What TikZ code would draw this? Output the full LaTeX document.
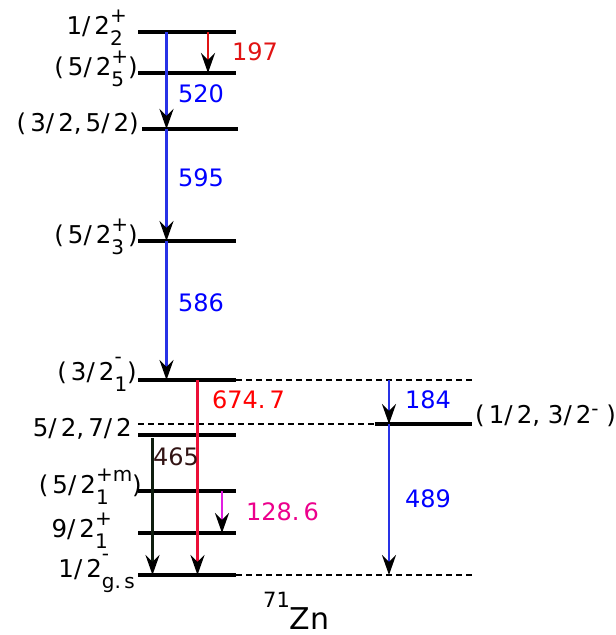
\documentclass[tikz,border=0pt]{standalone}
\usepackage{fontspec}
\setmainfont{DejaVu Sans}
\usetikzlibrary{arrows.meta,calc}

\definecolor{gblue}{RGB}{40,50,230}
\definecolor{gred}{RGB}{225,20,20}
\definecolor{gcrimson}{RGB}{235,15,55}
\definecolor{gmag}{RGB}{225,30,225}
\definecolor{gdark}{RGB}{15,30,15}
\definecolor{lbrown}{RGB}{50,20,20}

\newcommand{\subsz}{\fontsize{20}{20}\selectfont}
\newcommand{\supsub}[2]{{\subsz\setbox0=\hbox{\raisebox{11.5pt}{#1}}\setbox2=\hbox{\raisebox{-11.5pt}{#2}}\dimen0=\wd0 \ifdim\wd2>\dimen0 \dimen0=\wd2\fi\rlap{\box0}\rlap{\box2}\kern\dimen0}}
\newcommand{\mns}{\raisebox{5pt}{-}}

\tikzset{
    level/.style={line width=3.2pt},
    dlevel/.style={line width=2.8pt, dash pattern=on 6pt off 4pt},
    trans/.style={line width=2.8pt, -{Stealth[black,length=20pt,width=14pt,inset=7pt]}},
    spin/.style={anchor=base east, font=\fontsize{24.5}{24.5}\selectfont, inner sep=0pt},
    egam/.style={anchor=base west, font=\fontsize{24}{24}\selectfont, inner sep=0pt},
}

\begin{document}
\begin{tikzpicture}[x=1pt,y=-1pt]
        \useasboundingbox (0,0) rectangle (616,635);

        \coordinate (l1) at (138,32);
        \coordinate (l2) at (138,73);
        \coordinate (l3) at (142,129);
        \coordinate (l4) at (138,241);
        \coordinate (l5) at (138,380);
        \coordinate (l6) at (138,424);
        \coordinate (l6b) at (138,435);
        \coordinate (l7) at (138,491);
        \coordinate (l8) at (138,533);
        \coordinate (gs) at (138,575);
        \coordinate (r5) at (472,380);
        \coordinate (r6) at (375,424);
        \coordinate (r6e) at (472,424);
        \coordinate (rgs) at (475,575);

        \coordinate (xb) at (166.5,0);
        \coordinate (xr) at (208,0);
        \coordinate (xc) at (197.5,0);
        \coordinate (xk) at (152.5,0);
        \coordinate (xm) at (222,0);
        \coordinate (xs) at (389,0);

        \draw[level] (l1) -- ++(98,0);
        \draw[level] (l2) -- ++(98,0);
        \draw[level] (l3) -- ++(96,0);
        \draw[level] (l4) -- ++(98,0);
        \draw[level] (l5) -- ++(98,0);
        \draw[dlevel] ($(l5)+(98,0)$) -- (r5);
        \draw[dlevel] (l6) -- (r6);
        \draw[level] (r6) -- (r6e);
        \draw[level] (l6b) -- ++(98,0);
        \draw[level] (l7) -- ++(98,0);
        \draw[level] (l8) -- ++(98,0);
        \draw[level] (gs) -- ++(98,0);
        \draw[dlevel] ($(gs)+(98,0)$) -- (rgs);

        \node[spin] (s1) at (127,34) {1/\,2\supsub{+}{2}};
        \node[spin] (s2) at (138,75) {(\,5/\,2\supsub{+}{5})};
        \node[spin] (s3) at (139,131) {(\,3/\,2,\,5/\,2)};
        \node[spin] (s4) at (138,243) {(\,5/\,2\supsub{+}{3})};
        \node[spin] (s5) at (137,380) {(\,3/\,2\supsub{\mns}{1})};
        \node[spin] (s6) at (132,436) {5/\,2,\,7/\,2};
        \node[spin] (s7) at (142,493) {(\,5/\,2\supsub{+m}{1})};
        \node[spin] (s8) at (112,537) {9/\,2\supsub{+}{1}};
        \node[spin] (s9) at (135,577) {1/\,2\supsub{\mns}{g.\,s}};
        \node[spin, anchor=base west] (s10) at (475,423) {(\,1/\,2, 3/\,2\raisebox{8pt}{\subsz -} )};

        \draw[trans, gblue] (xb |- l1) -- (xb |- l3);
        \draw[trans, gblue] (xb |- l3) -- (xb |- l4);
        \draw[trans, gblue] (xb |- l4) -- (xb |- l5);
        \draw[trans, gred] (xr |- l1) -- (xr |- l2);
        \draw[trans, gcrimson] (xc |- l5) -- (xc |- gs);
        \draw[trans, gdark] ($(xk |- l6b)+(0,3)$) -- (xk |- gs);
        \draw[trans, gmag] (xm |- l7) -- (xm |- l8);
        \draw[trans, gblue] (xs |- l5) -- (xs |- l6);
        \draw[trans, gblue] (xs |- l6) -- (xs |- gs);

        \node[egam, text=gred] (g197) at (232,60) {197};
        \node[egam, text=blue] (g520) at (178,102) {520};
        \node[egam, text=blue] (g595) at (178,186) {595};
        \node[egam, text=blue] (g586) at (178,311) {586};
        \node[egam, text=red] (g674) at (212,408) {674.\,7};
        \node[egam, text=lbrown] (g465) at (153,465) {465};
        \node[egam, text=magenta] (g128) at (246,520) {128.\,6};
        \node[egam, text=blue] (g184) at (405,408) {184};
        \node[egam, text=blue] (g489) at (405,507) {489};

        \node[anchor=base west, inner sep=0pt] (iso) at (263,629)
            {\raisebox{22pt}{\fontsize{21}{21}\selectfont 71}\fontsize{30}{30}\selectfont Zn};
\end{tikzpicture}
\end{document}
